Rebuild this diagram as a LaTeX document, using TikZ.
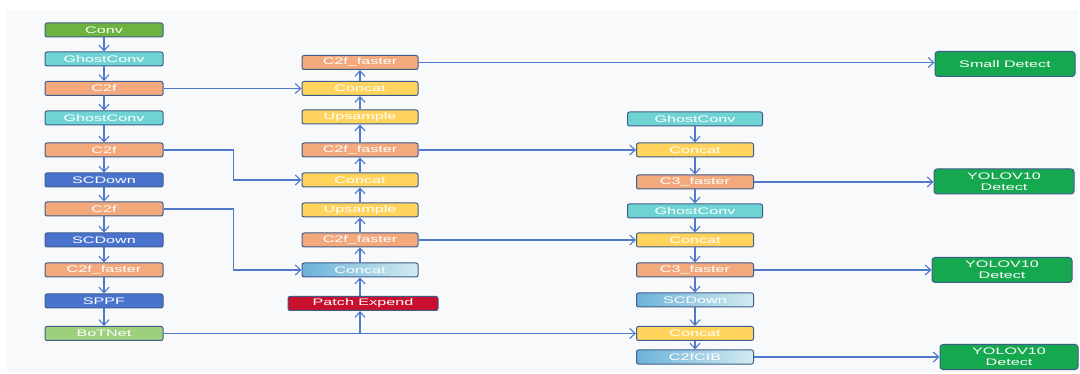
\documentclass[tikz,border=0pt]{standalone}
\usepackage{fontspec}
\newfontfamily\bfnt[FakeStretch=1.7]{Liberation Sans}
\usetikzlibrary{arrows.meta}
\definecolor{bordc}{HTML}{3D5C8E}
\definecolor{linec}{HTML}{5078CC}
\definecolor{cconv}{HTML}{6DB33F}
\definecolor{cghost}{HTML}{70D3D3}
\definecolor{corange}{HTML}{F4A97C}
\definecolor{cblue}{HTML}{4A73CE}
\definecolor{cbot}{HTML}{9DD07D}
\definecolor{cyel}{HTML}{FFD35C}
\definecolor{cred}{HTML}{C8102E}
\definecolor{cdet}{HTML}{16A84F}
\definecolor{gradA}{HTML}{6CB2DA}
\definecolor{gradB}{HTML}{D2EBEF}
\definecolor{bgc}{HTML}{F8F9FA}
\begin{document}
\begin{tikzpicture}[x=1pt,y=-1pt,
  blk/.style={draw=bordc, line width=1pt, rounded corners=2pt, minimum width=118pt,
    minimum height=14pt, inner sep=0pt, text=white, font=\bfnt\fontsize{9.5}{11}\selectfont},
  conv/.style={blk, fill=cconv},
  ghost/.style={blk, fill=cghost},
  orng/.style={blk, fill=corange},
  blu/.style={blk, fill=cblue},
  bot/.style={blk, fill=cbot},
  yel/.style={blk, fill=cyel},
  grad/.style={blk, left color=gradA, right color=gradB},
  red/.style={blk, fill=cred, minimum width=150pt},
  det/.style={blk, fill=cdet, minimum width=140pt, minimum height=25pt, align=center,
    rounded corners=3pt},
  arr/.style={draw=linec, line width=1.2pt, -{Straight Barb[length=5.5pt,width=10pt,line width=1.1pt]}},
  ln/.style={draw=linec, line width=1.2pt}
]
\useasboundingbox (0,0) rectangle (1080,374);
\fill[bgc] (7,10) rectangle (1078,372);
% left column
\node[conv] (conv) at (104,30) {Conv};
\node[ghost] (g1) at (104,59) {GhostConv};
\node[orng] (c1) at (104,88.5) {C2f};
\node[ghost] (g2) at (104,118) {GhostConv};
\node[orng] (c2) at (104,150) {C2f};
\node[blu] (sd1) at (104,180) {SCDown};
\node[orng] (c3) at (104,209) {C2f};
\node[blu] (sd2) at (104,240) {SCDown};
\node[orng] (cf) at (104,270) {C2f\_faster};
\node[blu] (sppf) at (104,301) {SPPF};
\node[bot] (bot) at (104,333.5) {BoTNet};
% middle column
\node[orng, minimum width=116pt] (m1) at (360,62.5) {C2f\_faster};
\node[yel, minimum width=116pt] (m2) at (360,88.5) {Concat};
\node[yel, minimum width=116pt] (m3) at (360,117) {Upsample};
\node[orng, minimum width=116pt] (m4) at (360,150) {C2f\_faster};
\node[yel, minimum width=116pt] (m5) at (360,180) {Concat};
\node[yel, minimum width=116pt] (m6) at (360,210) {Upsample};
\node[orng, minimum width=116pt] (m7) at (360,240) {C2f\_faster};
\node[grad, minimum width=116pt] (m8) at (360,270) {Concat};
\node[red] (pe) at (363,303.5) {Patch Expend};
% right column
\node[ghost, minimum width=135pt] (r1) at (695,119) {GhostConv};
\node[yel, minimum width=117pt] (r2) at (695,150) {Concat};
\node[orng, minimum width=117pt] (r3) at (695,182) {C3\_faster};
\node[ghost, minimum width=135pt] (r4) at (695,211) {GhostConv};
\node[yel, minimum width=117pt] (r5) at (695,240) {Concat};
\node[orng, minimum width=117pt] (r6) at (695,270) {C3\_faster};
\node[grad, minimum width=117pt] (r7) at (695,300) {SCDown};
\node[yel, minimum width=117pt] (r8) at (695,333.5) {Concat};
\node[grad, minimum width=117pt] (r9) at (695,357) {C2fCIB};
% detect boxes
\node[det] (d0) at (1005,64) {Small Detect};
\node[det] (d1) at (1004,181.5) {YOLOV10\\Detect};
\node[det] (d2) at (1002,270) {YOLOV10\\Detect};
\node[det, minimum width=138pt] (d3) at (1009,357) {YOLOV10\\Detect};
% left chain
\foreach \a/\b in {conv/g1,g1/c1,c1/g2,g2/c2,c2/sd1,sd1/c3,c3/sd2,sd2/cf,cf/sppf,sppf/bot}
  \draw[arr] (\a) -- (\b);
% middle chain (upwards)
\coordinate (j) at (bot.east -| m8);
\draw[arr] (j) -- (j |- pe.south);
\draw[arr] (pe.north -| m8) -- (m8.south);
\foreach \a/\b in {m8/m7,m7/m6,m6/m5,m5/m4,m4/m3,m3/m2,m2/m1}
  \draw[arr] (\a) -- (\b);
% right chain
\foreach \a/\b in {r1/r2,r2/r3,r3/r4,r4/r5,r5/r6,r6/r7,r7/r8,r8/r9}
  \draw[arr] (\a) -- (\b);
% cross connections
\draw[arr] (c1.east) -- (c1.east -| m2.west);
\draw[arr] (c2.east) -- ++(70,0) |- (m5.west);
\draw[arr] (c3.east) -- ++(70,0) |- (m8.west);
\draw[arr] (bot.east) -- (bot.east -| r8.west);
\draw[arr] (m1.east) -- (m1.east -| d0.west);
\draw[arr] (m4.east) -- (m4.east -| r2.west);
\draw[arr] (m7.east) -- (m7.east -| r5.west);
\draw[arr] (r3.east) -- (r3.east -| d1.west);
\draw[arr] (r6.east) -- (r6.east -| d2.west);
\draw[arr] (r9.east) -- (r9.east -| d3.west);
\end{tikzpicture}
\end{document}
